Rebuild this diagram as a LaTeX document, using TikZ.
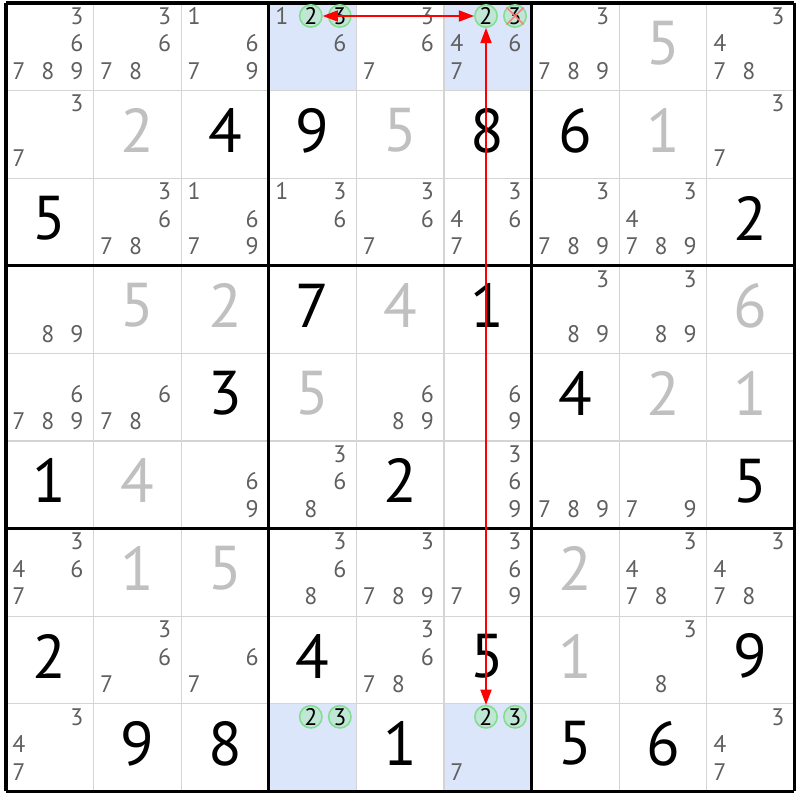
\documentclass[tikz,border=0pt]{standalone}
\usepackage{fontspec}
\setmainfont{PT Sans}
\usetikzlibrary{arrows.meta}

\definecolor{pick}{RGB}{220,230,251}
\definecolor{ringline}{RGB}{130,222,140}
\definecolor{ringfill}{RGB}{192,230,214}
\definecolor{candgray}{RGB}{95,95,95}
\definecolor{solvedgray}{RGB}{192,192,192}
\definecolor{thingray}{RGB}{212,212,212}
\definecolor{xred}{RGB}{255,120,120}

\begin{document}
\begin{tikzpicture}[x=0.025cm, y=-0.025cm,
    cand/.style={font=\fontsize{17}{18}\selectfont, text=candgray, inner sep=0pt},
    given/.style={font=\fontsize{44}{46}\selectfont, text=black, inner sep=0pt},
    solved/.style={given, text=solvedgray},
    ringed/.style={cand, font=\fontsize{17}{18}\selectfont, text=black, circle,
        draw=ringline, fill=ringfill, line width=1.1pt, minimum size=0.56cm},
    link/.style={red, line width=0.9pt,
        {Triangle[length=0.38cm,width=0.28cm]}-{Triangle[length=0.38cm,width=0.28cm]}},
    crossout/.style={draw=xred, line width=1pt},
    thinline/.style={draw=thingray, line width=0.8pt},
    boxline/.style={draw=black, line width=2.2pt}]

    \useasboundingbox (0,0) rectangle (800,800);

    % highlighted cells
    \foreach \r/\c in {1/4,1/6,9/4,9/6}
        \fill[pick] ({6+87.6*(\c-1)},{3+87.6*(\r-1)}) rectangle +(87.6,87.6);

    % grid
    \foreach \i in {1,2,4,5,7,8} {
        \draw[thinline] ({6+87.6*\i},3) -- ({6+87.6*\i},791.4);
        \draw[thinline] (6,{3+87.6*\i}) -- (794.4,{3+87.6*\i});
    }
    \foreach \i in {0,3,6,9} {
        \draw[boxline] ({6+87.6*\i},3) -- ({6+87.6*\i},791.4);
        \draw[boxline] (6,{3+87.6*\i}) -- (794.4,{3+87.6*\i});
    }

    % givens
    \foreach \r/\c/\v in {2/3/4,2/4/9,2/6/8,2/7/6,3/1/5,3/9/2,4/4/7,4/6/1,5/3/3,5/7/4,
        6/1/1,6/5/2,6/9/5,8/1/2,8/4/4,8/6/5,8/9/9,9/2/9,9/3/8,9/5/1,9/7/5,9/8/6}
        \node[given] (v\r\c) at ({6+87.6*(\c-0.5)},{3+87.6*(\r-0.5)-4}) {\v};

    % solved
    \foreach \r/\c/\v in {1/8/5,2/2/2,2/5/5,2/8/1,4/2/5,4/3/2,4/5/4,4/9/6,5/4/5,5/8/2,
        5/9/1,6/2/4,7/2/1,7/3/5,7/7/2,8/7/1}
        \node[solved] (v\r\c) at ({6+87.6*(\c-0.5)},{3+87.6*(\r-0.5)-4}) {\v};

    % candidates
    \foreach \r/\c/\ds in {1/1/{3,6,7,8,9},1/2/{3,6,7,8},1/3/{1,6,7,9},1/4/{1,6},1/5/{3,6,7},
        1/6/{4,6,7},1/7/{3,7,8,9},1/9/{3,4,7,8},2/1/{3,7},2/9/{3,7},
        3/2/{3,6,7,8},3/3/{1,6,7,9},3/4/{1,3,6},3/5/{3,6,7},3/6/{3,4,6,7},3/7/{3,7,8,9},
        3/8/{3,4,7,8,9},4/1/{8,9},4/7/{3,8,9},4/8/{3,8,9},
        5/1/{6,7,8,9},5/2/{6,7,8},5/5/{6,8,9},5/6/{6,9},
        6/3/{6,9},6/4/{3,6,8},6/6/{3,6,9},6/7/{7,8,9},6/8/{7,9},
        7/1/{3,4,6,7},7/4/{3,6,8},7/5/{3,7,8,9},7/6/{3,6,7,9},7/8/{3,4,7,8},7/9/{3,4,7,8},
        8/2/{3,6,7},8/3/{6,7},8/5/{3,6,7,8},8/8/{3,8},
        9/1/{3,4,7},9/6/{7},9/9/{3,4,7}}
        \foreach \d in \ds
            \node[cand] (k\r\c-\d) at ({6+87.6*(\c-1)+13+29*mod(\d-1,3)},
                {3+87.6*(\r-1)+13+27.5*int((\d-1)/3)}) {\d};

    % marked candidates
    \foreach \r/\c/\d in {1/4/2,1/4/3,1/6/2,1/6/3,9/4/2,9/4/3,9/6/2,9/6/3}
        \node[ringed] (k\r\c-\d) at ({6+87.6*(\c-1)+13+29*mod(\d-1,3)},
            {3+87.6*(\r-1)+13+27.5*int((\d-1)/3)}) {\d};

    \draw[crossout] (k16-3.north west) -- (k16-3.south east);
    \draw[crossout] (k16-3.north east) -- (k16-3.south west);

    % links
    \draw[link] (k14-2) -- (k16-2);
    \draw[link] (k16-2) -- (k96-2);

\end{tikzpicture}
\end{document}
